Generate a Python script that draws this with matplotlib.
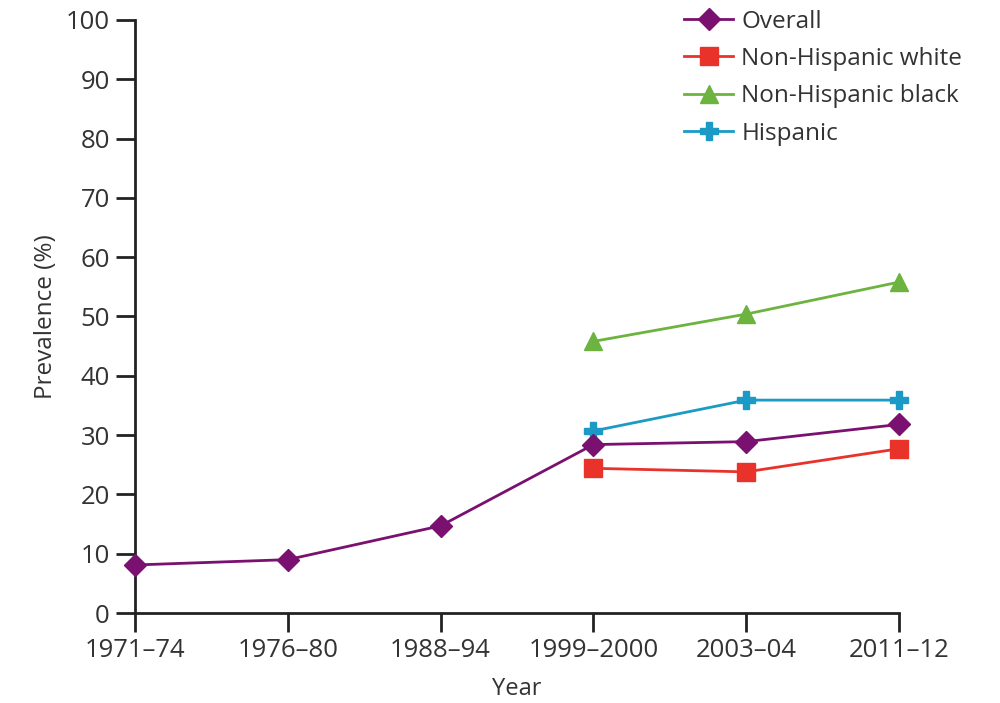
import matplotlib
matplotlib.use("Agg")
import matplotlib.pyplot as plt

plt.rcParams['font.family'] = ['Open Sans', 'DejaVu Sans']

periods = ['1971–74', '1976–80', '1988–94', '1999–2000', '2003–04', '2011–12']
overall = [8.1, 9.0, 14.7, 28.4, 28.9, 31.8]
nh_white = [24.4, 23.8, 27.7]
nh_black = [45.8, 50.4, 55.8]
hispanic = [30.7, 35.9, 35.9]

x_all = list(range(len(periods)))
x_recent = x_all[3:]

text_col = '#333333'

fig = plt.figure(figsize=(10, 7.03), dpi=100)
ax = fig.add_axes([0.135, 0.128, 0.764, 0.8436])

ax.plot(x_all, overall, color='#7a106f', lw=2, marker='D', ms=11, label='Overall', clip_on=False, zorder=5)
ax.plot(x_recent, nh_white, color='#e8322a', lw=2, marker='s', ms=13, label='Non-Hispanic white', clip_on=False, zorder=4)
ax.plot(x_recent, nh_black, color='#6cb33f', lw=2, marker='^', ms=13, label='Non-Hispanic black', clip_on=False, zorder=4)
ax.plot(x_recent, hispanic, color='#1a9ac4', lw=2, marker='P', ms=13, label='Hispanic', clip_on=False, zorder=4)

ax.set_xlim(0, 5)
ax.set_ylim(0, 100)
ax.set_xticks(x_all)
ax.set_xticklabels(periods)
ax.set_yticks(range(0, 101, 10))

for s in ['top', 'right']:
    ax.spines[s].set_visible(False)
for s in ['left', 'bottom']:
    ax.spines[s].set_linewidth(2)
    ax.spines[s].set_color('#222222')

ax.tick_params(axis='both', direction='out', length=14, width=2, color='#222222',
               labelsize=18.5, labelcolor=text_col, pad=4)

ax.set_xlabel('Year', fontsize=17, color=text_col, labelpad=10)
ax.set_ylabel('Prevalence (%)', fontsize=17.5, color=text_col, labelpad=6)

leg = ax.legend(loc='upper left', bbox_to_anchor=(0.703, 1.038), frameon=False, fontsize=17.5,
                handlelength=2.0, handletextpad=0.35, labelspacing=0.55, borderpad=0)
for t in leg.get_texts():
    t.set_color(text_col)

fig.savefig('out.png', dpi=100)
